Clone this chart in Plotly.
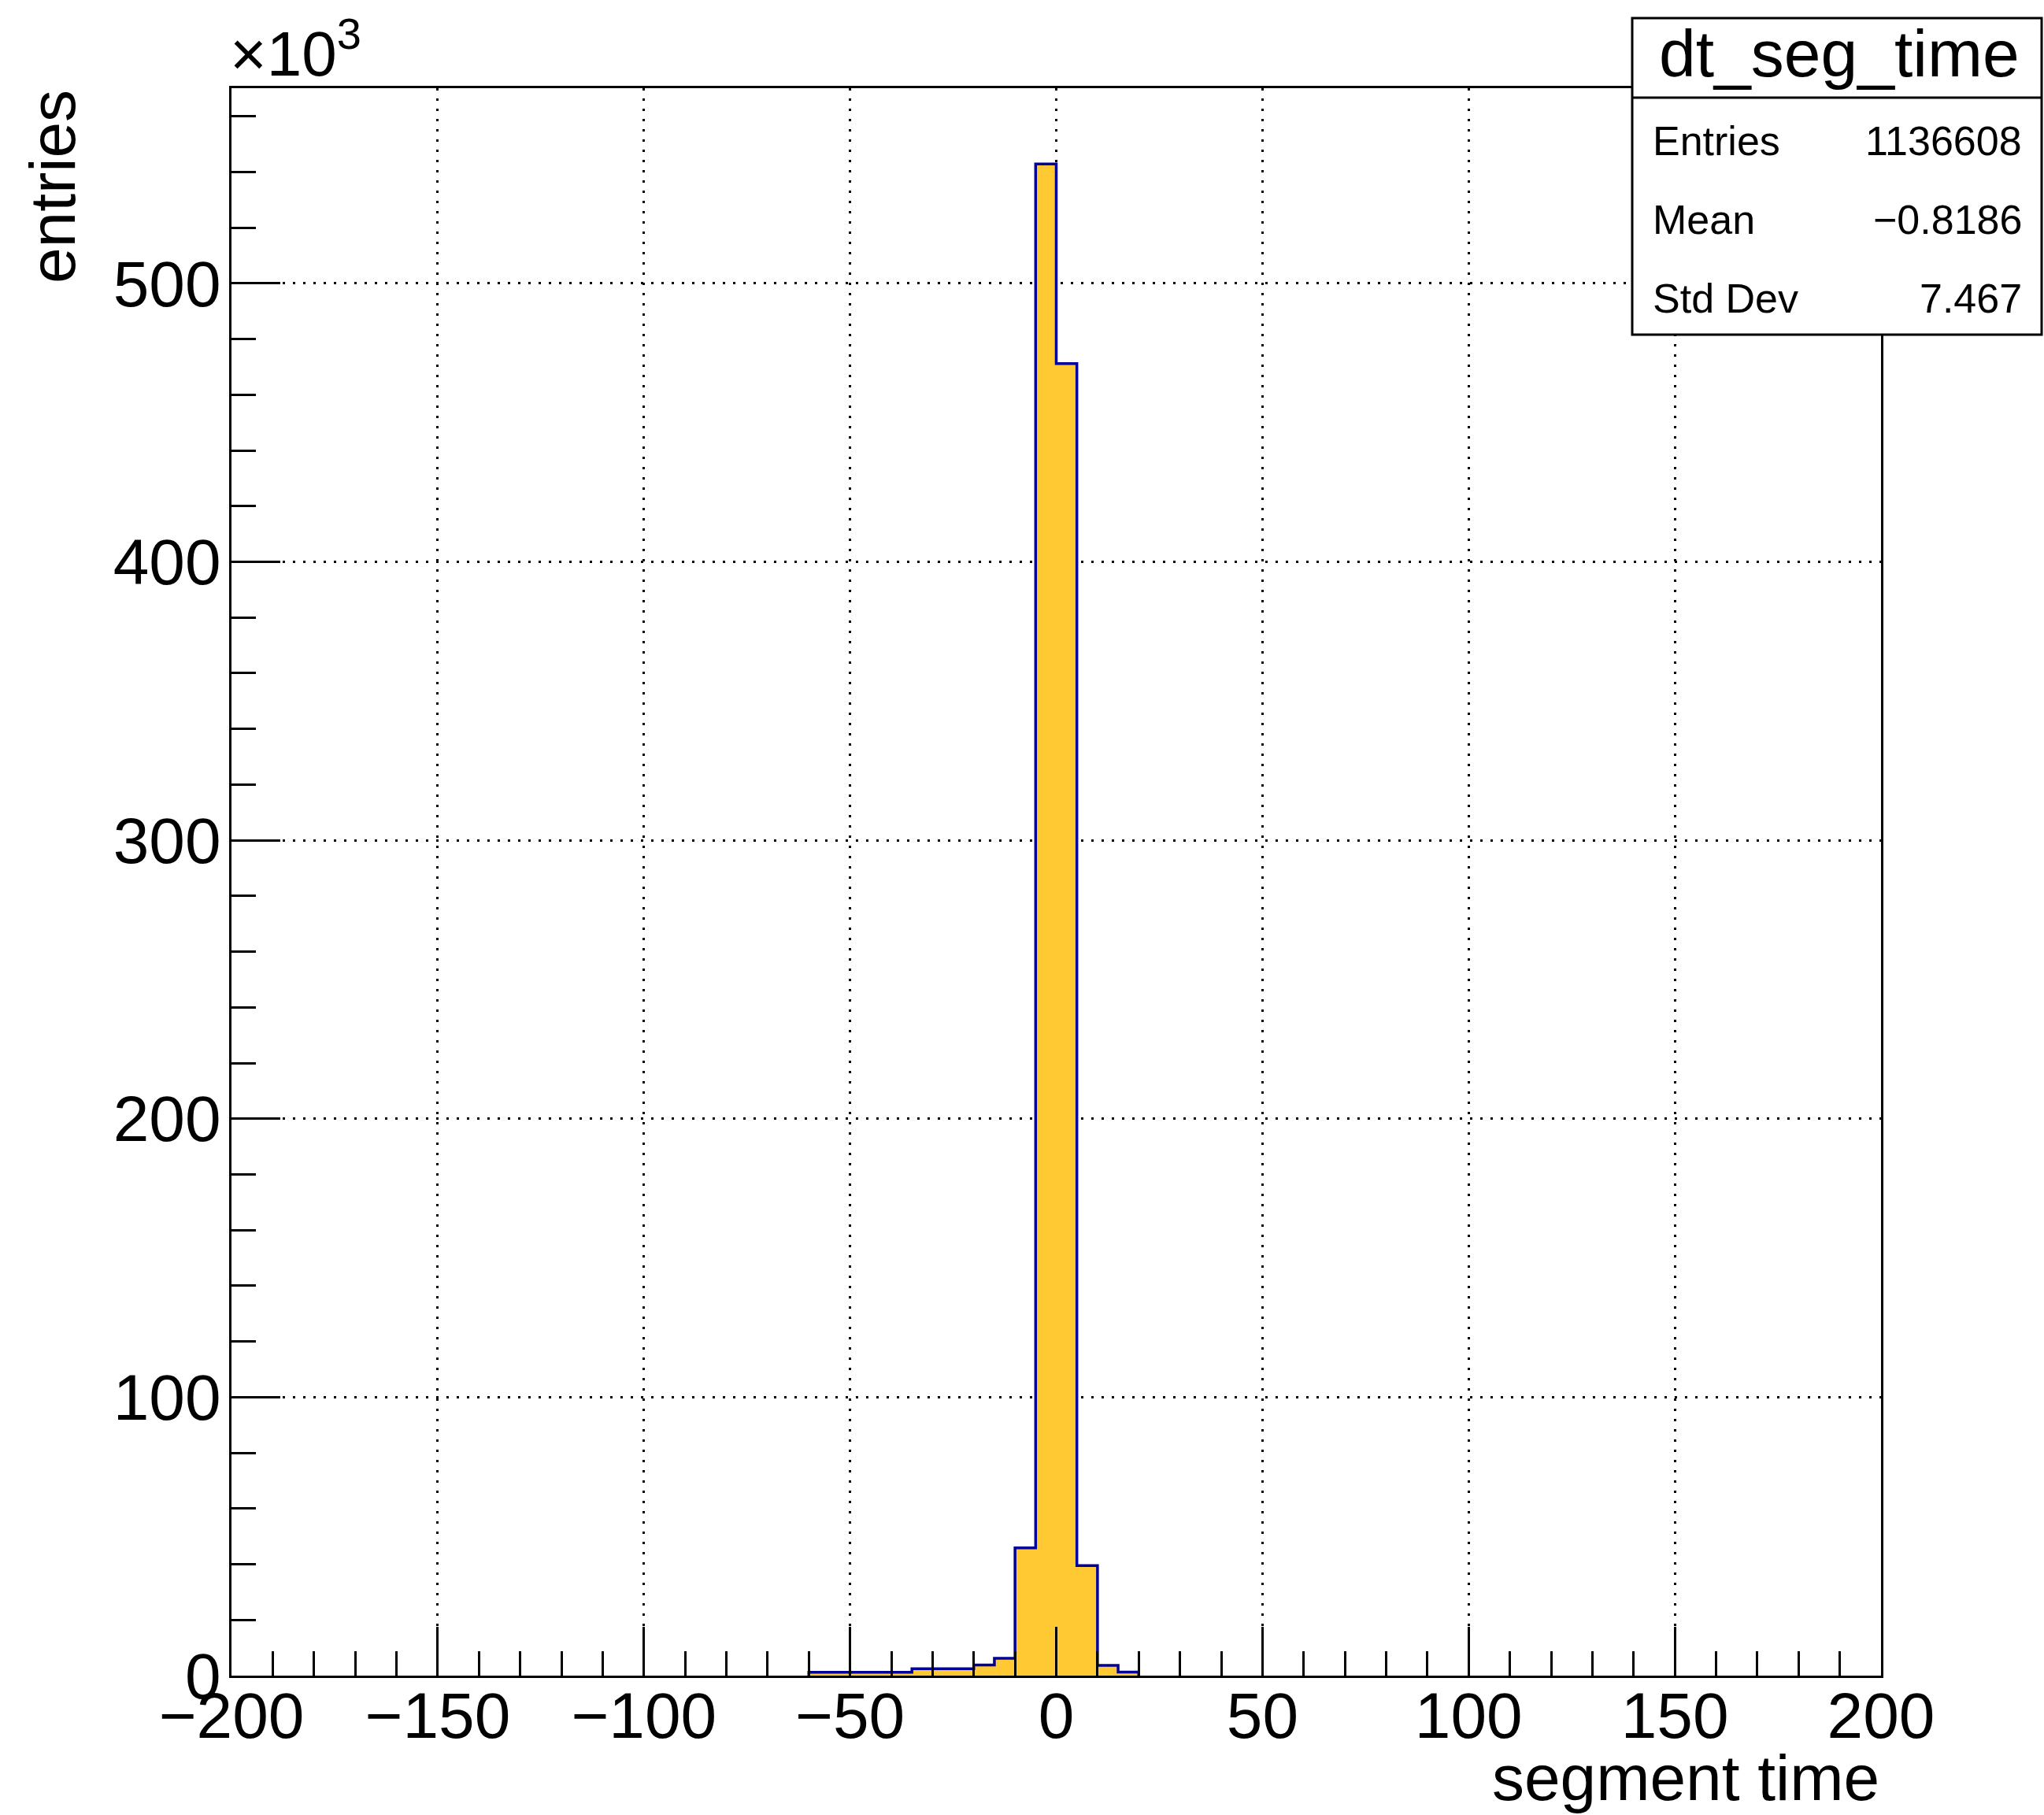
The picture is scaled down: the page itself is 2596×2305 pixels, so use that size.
import plotly.graph_objects as go

# ---- data ----
bin_left = [-60, -55, -50, -45, -40, -35, -30, -25, -20, -15, -10, -5, 0, 5, 10, 15]
counts_k = [1.2, 1.2, 1.2, 1.2, 1.2, 2.5, 2.5, 2.5, 3.8, 6.2, 45.9, 542.9, 471.2, 39.5, 3.7, 1.3]
bin_width = 5
x_range = [-200, 200]
y_range = [0, 570.1]
x_major = [-200, -150, -100, -50, 0, 50, 100, 150, 200]
y_major = [0, 100, 200, 300, 400, 500]
x_title = "segment time"
y_title = "entries"
y_exponent = "×10<sup>3</sup>"
hist_name = "dt_seg_time"
stat_labels = ["Entries", "Mean", "Std Dev"]
stat_values = ["1136608", "\u22120.8186", "7.467"]

FILL = "#FFC933"
LINE = "#000099"
FONT = "Liberation Sans, Arial, Helvetica, sans-serif"

W, H = 2596, 2305
L, R, T, B = 294, 2389, 112, 2128


def px_x(p):
    return (p - L) / (R - L)


def px_y(p):
    return (B - p) / (B - T)


centers = [l + bin_width / 2 for l in bin_left]

# outline path of the histogram
sx, sy = [bin_left[0]], [0]
for l, c in zip(bin_left, counts_k):
    sx += [l, l + bin_width]
    sy += [c, c]
sx.append(bin_left[-1] + bin_width)
sy.append(0)

fig = go.Figure()
fig.add_trace(go.Bar(x=centers, y=counts_k, width=bin_width,
                     marker=dict(color=FILL, line=dict(width=0)),
                     hoverinfo="skip", showlegend=False))
fig.add_trace(go.Scatter(x=sx, y=sy, mode="lines",
                         line=dict(color=LINE, width=3.5),
                         hoverinfo="skip", showlegend=False))

axis_common = dict(
    showline=True, linecolor="black", linewidth=3, mirror=True,
    ticks="inside", ticklen=62, tickwidth=3, tickcolor="black",
    showgrid=True, gridcolor="black", gridwidth=2.5, griddash="3px,10px",
    zeroline=False,
    tickfont=dict(family=FONT, size=82, color="black"),
)

fig.update_xaxes(range=x_range, tickvals=x_major, ticklabelstandoff=-22,
                 minor=dict(dtick=10, tick0=0, ticks="inside", ticklen=31, tickwidth=3,
                            tickcolor="black", showgrid=False),
                 **axis_common)
fig.update_yaxes(range=y_range, tickvals=y_major, ticklabelstandoff=-6,
                 minor=dict(dtick=20, tick0=0, ticks="inside", ticklen=31, tickwidth=3,
                            tickcolor="black", showgrid=False),
                 **axis_common)

annotations = [
    dict(text=y_title, textangle=-90, xref="paper", yref="paper",
         x=px_x(66), y=1.0, xanchor="center", yanchor="top", showarrow=False,
         font=dict(family=FONT, size=82, color="black")),
    dict(text=x_title, xref="paper", yref="paper",
         x=1.0, y=px_y(2257), xanchor="right", yanchor="middle", showarrow=False,
         font=dict(family=FONT, size=82, color="black")),
    dict(text=y_exponent, xref="paper", yref="paper",
         x=px_x(290), y=px_y(115), xanchor="left", yanchor="bottom", showarrow=False,
         font=dict(family=FONT, size=80, color="black")),
    dict(text=hist_name, xref="paper", yref="paper",
         x=px_x(2336), y=px_y(68), xanchor="center", yanchor="middle", showarrow=False,
         font=dict(family=FONT, size=84, color="black")),
]
row_y = [179, 279, 379]
for lab, val, ry in zip(stat_labels, stat_values, row_y):
    annotations.append(dict(text=lab, xref="paper", yref="paper",
                            x=px_x(2097), y=px_y(ry), xanchor="left", yanchor="middle",
                            showarrow=False, font=dict(family=FONT, size=52, color="black")))
    annotations.append(dict(text=val, xref="paper", yref="paper",
                            x=px_x(2570), y=px_y(ry), xanchor="right", yanchor="middle",
                            showarrow=False, font=dict(family=FONT, size=52, color="black")))

shapes = [
    dict(type="rect", xref="paper", yref="paper",
         x0=px_x(2073), x1=px_x(2593), y0=px_y(425), y1=px_y(23),
         fillcolor="white", line=dict(color="black", width=3), layer="above"),
    dict(type="line", xref="paper", yref="paper",
         x0=px_x(2073), x1=px_x(2593), y0=px_y(124), y1=px_y(124),
         line=dict(color="black", width=3), layer="above"),
]

fig.update_layout(
    width=W, height=H,
    margin=dict(l=L, r=W - R, t=T, b=H - B, autoexpand=False),
    paper_bgcolor="white", plot_bgcolor="white",
    bargap=0, showlegend=False,
    annotations=annotations, shapes=shapes,
    font=dict(family=FONT, color="black"),
)

fig.write_html("out.html")
